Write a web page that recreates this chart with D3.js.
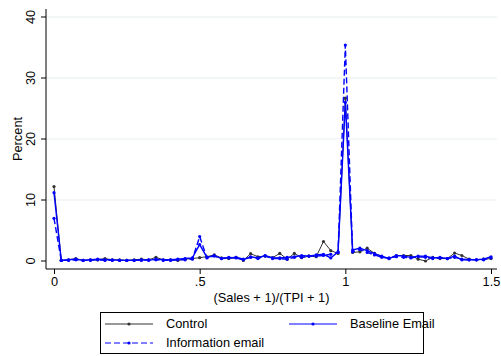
<!DOCTYPE html>
<html>
<head>
<meta charset="utf-8">
<script src="https://cdn.jsdelivr.net/npm/d3@7"></script>
<style>
  body { margin: 0; background: #fff; }
  svg { display: block; font-family: "Liberation Sans", Arial, sans-serif; }
</style>
</head>
<body>
<div id="chart"></div>
<script>
// ratio bins, 0 to 1.5 in steps of .025
var ratios = d3.range(61).map(function (i) { return +(i * 0.025).toFixed(3); });

var control = [12.2, 0.1, 0.2, 0.4, 0.1, 0.2, 0.2, 0.4, 0.2, 0.2,
  0.1, 0.2, 0.3, 0.2, 0.6, 0.2, 0.2, 0.1, 0.3, 0.4,
  0.55, 0.7, 1.0, 0.5, 0.4, 0.6, 0.1, 1.2, 0.7, 0.8,
  0.55, 1.25, 0.3, 1.25, 0.55, 0.8, 0.7, 3.2, 1.7, 1.25,
  26.7, 1.4, 1.5, 2.1, 1.25, 0.7, 0.4, 0.9, 0.9, 0.9,
  0.3, 0.0, 0.6, 0.4, 0.4, 1.3, 0.9, 0.3, 0.2, 0.3, 0.4];

var baseline = [11.2, 0.1, 0.2, 0.3, 0.1, 0.2, 0.3, 0.2, 0.2, 0.1,
  0.1, 0.1, 0.2, 0.1, 0.3, 0.2, 0.2, 0.3, 0.4, 0.5,
  2.7, 0.6, 0.9, 0.4, 0.6, 0.5, 0.2, 0.7, 0.5, 0.9,
  0.5, 0.5, 0.6, 0.7, 0.9, 0.8, 1.0, 1.1, 0.5, 1.5,
  26.0, 1.8, 2.1, 1.7, 1.2, 0.8, 0.4, 0.9, 0.8, 0.6,
  0.8, 0.8, 0.5, 0.6, 0.4, 0.8, 0.2, 0.2, 0.2, 0.3, 0.7];

var information = [7.0, 0.1, 0.1, 0.2, 0.1, 0.1, 0.2, 0.1, 0.1, 0.1,
  0.1, 0.1, 0.1, 0.2, 0.2, 0.1, 0.1, 0.2, 0.2, 0.3,
  4.0, 0.5, 0.8, 0.4, 0.5, 0.6, 0.3, 0.6, 0.4, 0.8,
  0.4, 0.4, 0.3, 0.6, 0.6, 0.8, 0.8, 0.9, 1.1, 1.4,
  35.4, 1.5, 1.9, 1.4, 1.0, 0.6, 0.5, 0.7, 0.6, 0.5,
  0.7, 0.6, 0.4, 0.5, 0.4, 0.6, 0.3, 0.2, 0.2, 0.2, 0.5];

var xTicks = [0, 0.5, 1, 1.5];
var xTickLabels = ["0", ".5", "1", "1.5"];
var yTicks = [0, 10, 20, 30, 40];

var seriesNames = ["Control", "Baseline Email", "Information email"];

var W = 501, H = 356;
var FS = "12.8px";
var svg = d3.select("#chart").append("svg")
    .attr("width", W)
    .attr("height", H);

var plot = { left: 46, right: 497, top: 9, bottom: 269 };

var x = d3.scaleLinear().domain([0, 1.5]).range([54, 491]);
var y = d3.scaleLinear().domain([0, 40]).range([261, 17]);

// gridlines
svg.append("g")
  .selectAll("line")
  .data(yTicks.slice(1))
  .enter().append("line")
    .attr("x1", plot.left).attr("x2", plot.right)
    .attr("y1", function (d) { return y(d); })
    .attr("y2", function (d) { return y(d); })
    .attr("stroke", "#e6eeef")
    .attr("stroke-width", 1);

// y axis
var yAxis = d3.axisLeft(y).tickValues(yTicks).tickSize(5).tickPadding(4);
var yg = svg.append("g")
    .attr("transform", "translate(" + plot.left + ",0)")
    .call(yAxis);
yg.select(".domain").attr("d", "M0," + plot.top + "V" + plot.bottom);
yg.selectAll("text")
    .attr("transform", "rotate(-90)")
    .attr("x", function (d) { return -y(d); })
    .attr("y", -11)
    .attr("dy", 0)
    .style("text-anchor", "middle")
    .style("font-size", FS)
    .attr("fill", "#000");
yg.selectAll(".tick text").each(function (d) {
  d3.select(this.parentNode).attr("transform", null);
  d3.select(this.parentNode).select("line")
      .attr("y1", y(d)).attr("y2", y(d));
});

// x axis
var xAxis = d3.axisBottom(x).tickValues(xTicks)
    .tickFormat(function (d, i) { return xTickLabels[i]; })
    .tickSize(5).tickPadding(3);
var xg = svg.append("g")
    .attr("transform", "translate(0," + plot.bottom + ")")
    .call(xAxis);
xg.select(".domain").attr("d", "M" + plot.left + ",0H" + plot.right);
xg.selectAll("text").style("font-size", FS).attr("fill", "#000");

svg.selectAll(".domain, .tick line").attr("stroke", "#000");
svg.selectAll(".tick line").attr("stroke-width", 1);

// axis titles
svg.append("text")
    .attr("transform", "translate(18," + ((plot.top + plot.bottom) / 2) + ") rotate(-90)")
    .attr("text-anchor", "middle")
    .attr("dy", "0.35em")
    .style("font-size", FS)
    .text("Percent");

svg.append("text")
    .attr("x", (plot.left + plot.right) / 2)
    .attr("y", 302)
    .attr("text-anchor", "middle")
    .style("font-size", FS)
    .text("(Sales + 1)/(TPI + 1)");

// series
var styles = [
  { color: "#333333", width: 1, dash: null, values: control },
  { color: "#0000ff", width: 1.4, dash: null, values: baseline },
  { color: "#0000ff", width: 1.4, dash: "6,3", values: information }
];

var line = d3.line()
    .x(function (d) { return x(d[0]); })
    .y(function (d) { return y(d[1]); });

styles.forEach(function (s) {
  var pts = ratios.map(function (r, i) { return [r, s.values[i]]; });
  svg.append("path")
      .datum(pts)
      .attr("d", line)
      .attr("fill", "none")
      .attr("stroke", s.color)
      .attr("stroke-width", s.width)
      .attr("stroke-dasharray", s.dash);
  svg.append("g")
    .selectAll("circle")
    .data(pts)
    .enter().append("circle")
      .attr("cx", function (d) { return x(d[0]); })
      .attr("cy", function (d) { return y(d[1]); })
      .attr("r", 1.6)
      .attr("fill", s.color);
});

// legend
var legend = svg.append("g");
legend.append("rect")
    .attr("x", 100.5).attr("y", 312.5)
    .attr("width", 323).attr("height", 41)
    .attr("fill", "#fff")
    .attr("stroke", "#000")
    .attr("stroke-width", 1);

var legPos = [
  { x: 105, y: 324 },
  { x: 289, y: 324 },
  { x: 105, y: 343 }
];

styles.forEach(function (s, i) {
  var p = legPos[i];
  legend.append("line")
      .attr("x1", p.x).attr("x2", p.x + 48)
      .attr("y1", p.y).attr("y2", p.y)
      .attr("stroke", s.color)
      .attr("stroke-width", 1)
      .attr("stroke-dasharray", s.dash);
  legend.append("circle")
      .attr("cx", p.x + 24).attr("cy", p.y)
      .attr("r", 1.6)
      .attr("fill", s.color);
  legend.append("text")
      .attr("x", p.x + 61).attr("y", p.y)
      .attr("dy", "0.35em")
      .style("font-size", FS)
      .text(seriesNames[i]);
});
</script>
</body>
</html>
